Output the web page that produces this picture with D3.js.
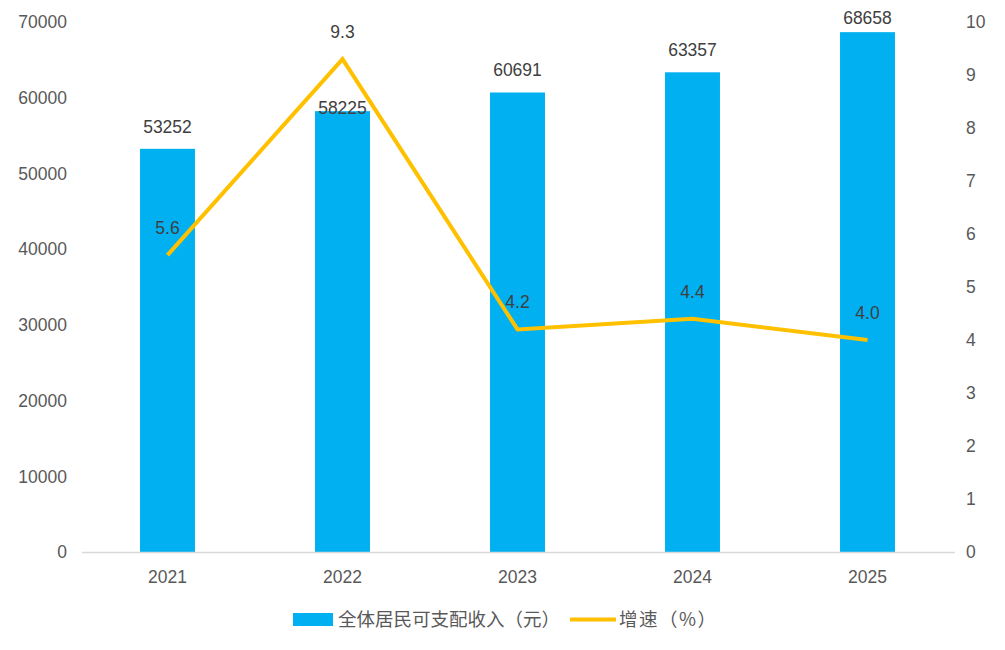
<!DOCTYPE html>
<html>
<head>
<meta charset="utf-8">
<script src="https://cdn.jsdelivr.net/npm/d3@7"></script>
<style>
  body { margin: 0; background: #fff; }
  svg { display: block; }
</style>
</head>
<body>
<svg></svg>
<script>
var years = ["2021", "2022", "2023", "2024", "2025"];
var income = [53252, 58225, 60691, 63357, 68658];
var growth = [5.6, 9.3, 4.2, 4.4, 4.0];
var leftTicks = [0, 10000, 20000, 30000, 40000, 50000, 60000, 70000];
var rightTicks = [0, 1, 2, 3, 4, 5, 6, 7, 8, 9, 10];
var barName = "全体居民可支配收入（元）";
var lineName = "增速（%）";

var svgWidth = 1005;
var svgHeight = 650;
var barColor = "#00b0f0";
var lineColor = "#ffc000";
var numFont = "'Liberation Sans', Arial, sans-serif";

var svg = d3.select("svg")
    .attr("width", svgWidth)
    .attr("height", svgHeight);

var xScale = d3.scaleBand()
    .domain(years)
    .range([80, 955])
    .paddingInner(0.686)
    .paddingOuter(0.343);

var yLeft = d3.scaleLinear()
    .domain([0, 70000])
    .range([552, 22]);

var yRight = d3.scaleLinear()
    .domain([0, 10])
    .range([552, 22]);

function cx(d) {
    return xScale(d) + xScale.bandwidth() / 2;
}

// left axis labels
svg.append("g").selectAll("text")
    .data(leftTicks)
    .enter()
    .append("text")
    .attr("x", 67)
    .attr("y", function(d) { return yLeft(d); })
    .attr("dy", "0.36em")
    .attr("text-anchor", "end")
    .attr("font-family", numFont)
    .attr("font-size", "17.5px")
    .attr("fill", "#595959")
    .text(function(d) { return d; });

// right axis labels
svg.append("g").selectAll("text")
    .data(rightTicks)
    .enter()
    .append("text")
    .attr("x", 966)
    .attr("y", function(d) { return yRight(d); })
    .attr("dy", "0.36em")
    .attr("text-anchor", "start")
    .attr("font-family", numFont)
    .attr("font-size", "17.5px")
    .attr("fill", "#595959")
    .text(function(d) { return d; });

// bars
svg.append("g").selectAll("rect")
    .data(income)
    .enter()
    .append("rect")
    .attr("x", function(d, i) { return xScale(years[i]); })
    .attr("y", function(d) { return yLeft(d); })
    .attr("width", xScale.bandwidth())
    .attr("height", function(d) { return yLeft(0) - yLeft(d); })
    .attr("fill", barColor);

// baseline
svg.append("line")
    .attr("x1", 82)
    .attr("x2", 955)
    .attr("y1", yLeft(0) + 0.5)
    .attr("y2", yLeft(0) + 0.5)
    .attr("stroke", "#d9d9d9")
    .attr("stroke-width", 1.5);

// category labels
svg.append("g").selectAll("text")
    .data(years)
    .enter()
    .append("text")
    .attr("x", function(d) { return cx(d); })
    .attr("y", 583)
    .attr("text-anchor", "middle")
    .attr("font-family", numFont)
    .attr("font-size", "17.5px")
    .attr("fill", "#595959")
    .text(function(d) { return d; });

// growth line
var line = d3.line()
    .x(function(d, i) { return cx(years[i]); })
    .y(function(d) { return yRight(d); });

svg.append("path")
    .datum(growth)
    .attr("d", line)
    .attr("fill", "none")
    .attr("stroke", lineColor)
    .attr("stroke-width", 4)
    .attr("stroke-linejoin", "miter");

// bar value labels (2022 label sits lower to clear the line label,
// top label kept inside the chart)
svg.append("g").selectAll("text")
    .data(income)
    .enter()
    .append("text")
    .attr("x", function(d, i) { return cx(years[i]); })
    .attr("y", function(d, i) {
        if (i === 1) return yLeft(d) + 3;
        return Math.max(yLeft(d) - 16, 24);
    })
    .attr("text-anchor", "middle")
    .attr("font-family", numFont)
    .attr("font-size", "17.5px")
    .attr("fill", "#404040")
    .text(function(d) { return d; });

// line value labels
svg.append("g").selectAll("text")
    .data(growth)
    .enter()
    .append("text")
    .attr("x", function(d, i) { return cx(years[i]); })
    .attr("y", function(d) { return yRight(d) - 21; })
    .attr("text-anchor", "middle")
    .attr("font-family", numFont)
    .attr("font-size", "17.5px")
    .attr("fill", "#404040")
    .text(function(d) { return d.toFixed(1); });

// legend
var legend = svg.append("g");
legend.append("rect")
    .attr("x", 293)
    .attr("y", 613)
    .attr("width", 40)
    .attr("height", 13)
    .attr("fill", barColor);
var t1 = legend.append("text")
    .attr("x", 338)
    .attr("y", 626)
    .attr("font-family", "'Noto Sans CJK SC', sans-serif")
    .attr("font-size", "18.5px")
    .attr("fill", "#595959")
    .text(barName);
var lx = 338 + t1.node().getComputedTextLength() + 10;
legend.append("line")
    .attr("x1", lx)
    .attr("x2", lx + 46)
    .attr("y1", 619.5)
    .attr("y2", 619.5)
    .attr("stroke", lineColor)
    .attr("stroke-width", 4);
legend.append("text")
    .attr("x", lx + 49)
    .attr("y", 626)
    .attr("font-family", "'Noto Sans CJK SC', sans-serif")
    .attr("font-size", "18.5px")
    .attr("letter-spacing", "1.5px")
    .attr("fill", "#595959")
    .text(lineName);
</script>
</body>
</html>
